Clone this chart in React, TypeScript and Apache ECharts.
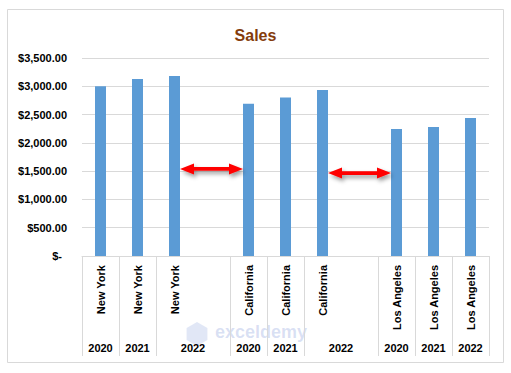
import React, { useEffect, useRef } from "react";
import * as echarts from "echarts";

// ---- data ----
const cities = ["New York", "New York", "New York", "", "California", "California", "California", "", "Los Angeles", "Los Angeles", "Los Angeles"];
const years = ["2020", "2021", "2022", "2022", "2020", "2021", "2022", "2022", "2020", "2021", "2022"];
const sales: (number | null)[] = [3000, 3130, 3180, null, 2690, 2800, 2935, null, 2245, 2280, 2440];
const yMin = 0;
const yMax = 3500;
const yStep = 500;
const titleText = "Sales";
// arrow annotations: from slot, to slot, at value
const arrowFrom = [2, 6];
const arrowTo = [4, 8];
const arrowAt = [1540, 1465];

const FONT = "'Liberation Sans', Arial, sans-serif";

function yearGroups() {
  const groups: { start: number; end: number; label: string }[] = [];
  years.forEach((y, i) => {
    const last = groups[groups.length - 1];
    if (last && last.label === y && last.end === i - 1) last.end = i;
    else groups.push({ start: i, end: i, label: y });
  });
  return groups;
}

function fmtMoney(v: number) {
  if (v === 0) return "{z|$-}";
  return "$" + v.toLocaleString("en-US", { minimumFractionDigits: 2, maximumFractionDigits: 2 });
}

export default function App() {
  const ref = useRef<HTMLDivElement>(null);
  useEffect(() => {
    document.body.style.margin = "0";
    const chart = echarts.init(ref.current!, undefined, { renderer: "svg" });
    const keys = cities.map((c, i) => `${c}|${years[i]}|${i}`);
    const groups = yearGroups();
    const boundaries = [0, ...groups.map((g) => g.end + 1)];
    const centers = groups.map((g) => (g.start + g.end + 1) / 2);
    const labelMap: Record<string, string> = {};
    groups.forEach((g, i) => (labelMap[String(centers[i])] = g.label));
    const barWidth = 11;

    chart.setOption({
      animation: false,
      backgroundColor: "#fff",
      title: {
        text: titleText,
        left: "center",
        top: 22,
        textStyle: { fontFamily: FONT, fontSize: 16, fontWeight: "bold", color: "#843C0C" },
      },
      grid: { left: 82, right: 22, top: 58, bottom: 117 },
      xAxis: [
        {
          type: "category",
          data: keys,
          axisLine: { show: true, lineStyle: { color: "#D9D9D9" } },
          axisTick: { show: false },
          axisLabel: {
            interval: 0,
            rotate: 90,
            margin: 9,
            fontFamily: FONT,
            fontSize: 11,
            fontWeight: "bold",
            color: "#000",
            formatter: (v: string) => v.split("|")[0],
          },
        },
        {
          type: "value",
          min: 0,
          max: keys.length,
          position: "bottom",
          axisLine: { show: false },
          splitLine: { show: false },
          axisTick: {
            show: true,
            customValues: boundaries,
            length: 100,
            lineStyle: { color: "#D9D9D9" },
          },
          axisLabel: {
            show: true,
            customValues: centers,
            margin: 86,
            fontFamily: FONT,
            fontSize: 11,
            fontWeight: "bold",
            color: "#000",
            formatter: (v: number) => labelMap[String(v)] ?? "",
          },
        },
      ],
      yAxis: {
        type: "value",
        min: yMin,
        max: yMax,
        interval: yStep,
        axisLine: { show: false },
        axisTick: { show: false },
        splitLine: { lineStyle: { color: "#D9D9D9" } },
        axisLabel: {
          margin: 15,
          fontFamily: FONT,
          fontSize: 11,
          fontWeight: "bold",
          color: "#000",
          formatter: fmtMoney,
          rich: { z: { fontFamily: FONT, fontSize: 11, fontWeight: "bold", color: "#000", padding: [0, 5, 0, 0] } },
        },
      },
      series: [
        {
          type: "bar",
          xAxisIndex: 0,
          yAxisIndex: 0,
          data: sales,
          barWidth,
          itemStyle: { color: "#5B9BD5" },
        },
      ],
    });

    const arrows: any[] = arrowFrom.map((f, i) => {
      const p1 = chart.convertToPixel({ xAxisIndex: 0, yAxisIndex: 0 }, [f, arrowAt[i]]) as number[];
      const p2 = chart.convertToPixel({ xAxisIndex: 0, yAxisIndex: 0 }, [arrowTo[i], arrowAt[i]]) as number[];
      const x1 = p1[0] + barWidth / 2;
      const x2 = p2[0] - barWidth / 2;
      const y = p1[1];
      const hl = 14, hh = 5.5, sh = 1.8;
      return {
        type: "polygon",
        z: 100,
        shape: {
          points: [
            [x1, y], [x1 + hl, y - hh], [x1 + hl, y - sh], [x2 - hl, y - sh], [x2 - hl, y - hh],
            [x2, y], [x2 - hl, y + hh], [x2 - hl, y + sh], [x1 + hl, y + sh], [x1 + hl, y + hh],
          ],
        },
        style: {
          fill: "#FF0000",
          shadowBlur: 4,
          shadowOffsetX: 2,
          shadowOffsetY: 3,
          shadowColor: "rgba(0,0,0,0.4)",
        },
      };
    });

    const hex = (cx: number, cy: number, r: number) =>
      Array.from({ length: 6 }, (_, k) => {
        const a = (Math.PI / 3) * k + Math.PI / 6;
        return [cx + r * Math.cos(a), cy + r * Math.sin(a)];
      });

    chart.setOption({
      graphic: [
        {
          type: "rect",
          z: -10,
          shape: { x: 7.5, y: 9.5, width: 496, height: 353 },
          style: { fill: "none", stroke: "#D9D9D9", lineWidth: 1 },
        },
        {
          type: "polygon",
          z: -5,
          shape: { points: hex(197, 334, 12) },
          style: { fill: "rgba(120,145,215,0.22)" },
        },
        {
          type: "text",
          z: -5,
          x: 215,
          y: 323,
          style: {
            text: "exceldemy",
            fontFamily: FONT,
            fontSize: 18,
            fontWeight: "bold",
            fill: "rgba(120,145,215,0.28)",
          },
        },
        ...arrows,
      ],
    });
    return () => chart.dispose();
  }, []);
  return <div ref={ref} style={{ width: 511, height: 373 }} />;
}
